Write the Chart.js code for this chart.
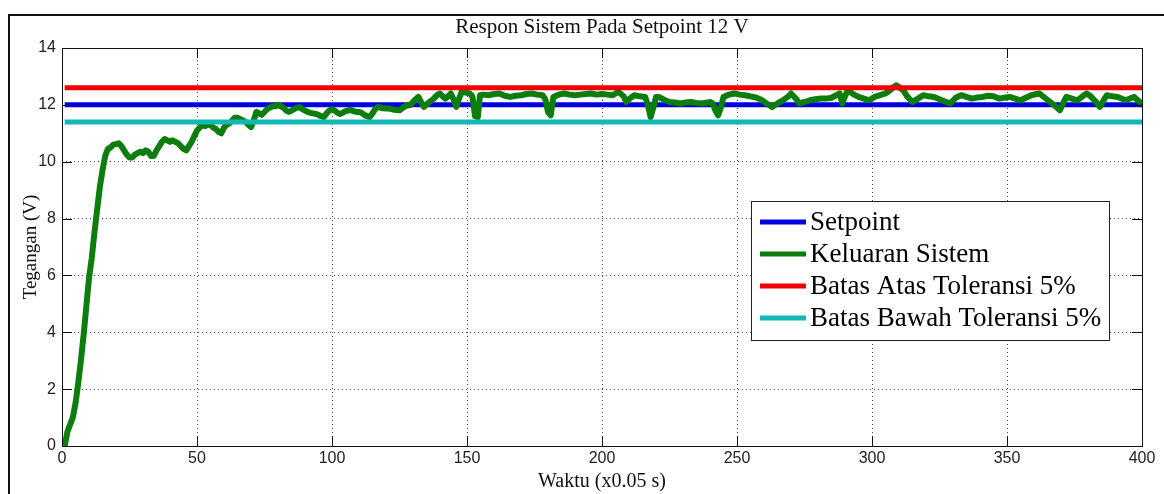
<!DOCTYPE html>
<html>
<head>
<meta charset="utf-8">
<script src="https://cdn.jsdelivr.net/npm/chart.js@4"></script>
<style>
  html, body { margin: 0; padding: 0; background: #fff; overflow: hidden; }
  #wrap { position: relative; width: 1164px; height: 494px; }
  #frame { position: absolute; left: 8px; top: 14px; width: 1170px; height: 500px;
           border-left: 2px solid #111; border-top: 2px solid #111; pointer-events: none; }
  canvas { position: absolute; left: 0; top: 0; }
</style>
</head>
<body>
<div id="wrap">
  <canvas id="chart" width="1164" height="494"></canvas>
  <div id="frame"></div>
</div>
<script>
  const chartTitle = 'Respon Sistem Pada Setpoint 12 V';
  const xLabel = 'Waktu (x0.05 s)';
  const yLabel = 'Tegangan (V)';

  const xTicks = [0, 50, 100, 150, 200, 250, 300, 350, 400];
  const yTicks = [0, 2, 4, 6, 8, 10, 12, 14];

  const lineStart = 1;
  const lineEnd = 400;
  const setpoint = 12;
  const upperLimit = 12.6;
  const lowerLimit = 11.4;

  const seriesLabels = ['Setpoint', 'Keluaran Sistem', 'Batas Atas Toleransi 5%', 'Batas Bawah Toleransi 5%'];
  const seriesColors = ['#0000e0', '#0d7d0d', '#f00000', '#12b8b8'];

  // [time, voltage]
  const outputSamples = [
    [1, 0], [2, 0.5], [3, 0.75], [4, 1.0], [5, 1.5], [6, 2.2], [7, 3.0], [8, 3.9], [9, 4.9],
    [10, 5.9], [11, 6.6], [12, 7.5], [13, 8.3], [14, 9.1], [15, 9.7], [16, 10.2], [17, 10.45],
    [18, 10.5], [19, 10.6], [20, 10.62], [21, 10.65], [22, 10.55], [23, 10.4], [24, 10.25],
    [25, 10.15], [26, 10.15], [27, 10.25], [28, 10.3], [29, 10.35], [30, 10.3], [31, 10.4],
    [32, 10.35], [33, 10.2], [34, 10.2], [35, 10.4], [36, 10.55], [37, 10.7], [38, 10.8],
    [39, 10.75], [40, 10.7], [41, 10.75], [42, 10.7], [43, 10.65], [44, 10.55], [45, 10.45],
    [46, 10.4], [47, 10.55], [48, 10.7], [49, 10.9], [50, 11.1], [51, 11.2], [52, 11.3],
    [53, 11.25], [54, 11.3], [55, 11.3], [56, 11.2], [57, 11.15], [58, 11.05], [59, 11.0],
    [60, 11.2], [61, 11.3], [62, 11.35], [63, 11.45], [64, 11.55], [65, 11.55], [66, 11.5],
    [67, 11.45], [68, 11.4], [69, 11.3], [70, 11.22], [71, 11.45], [72, 11.75], [73, 11.7],
    [74, 11.65], [75, 11.75], [76, 11.85], [77, 11.9], [78, 11.95], [79, 11.95], [80, 12.0],
    [81, 11.95], [82, 11.9], [83, 11.8], [84, 11.75], [85, 11.8], [86, 11.85], [87, 11.9],
    [88, 11.92], [89, 11.85], [90, 11.8], [91, 11.75], [92, 11.72], [93, 11.7], [94, 11.68],
    [95, 11.65], [96, 11.6], [97, 11.57], [98, 11.7], [99, 11.8], [100, 11.85], [101, 11.8],
    [102, 11.72], [103, 11.68], [104, 11.72], [105, 11.78], [106, 11.8], [107, 11.82],
    [108, 11.78], [109, 11.75], [110, 11.75], [111, 11.72], [112, 11.65], [113, 11.6],
    [114, 11.57], [115, 11.7], [116, 11.85], [117, 11.93], [118, 11.9], [119, 11.88],
    [120, 11.87], [121, 11.87], [122, 11.85], [123, 11.83], [124, 11.82], [125, 11.81],
    [126, 11.88], [127, 11.95], [128, 11.98], [129, 11.99], [130, 12.1], [131, 12.2],
    [132, 12.28], [133, 12.1], [134, 11.93], [135, 12.0], [136, 12.1], [137, 12.16],
    [138, 12.25], [139, 12.35], [140, 12.4], [141, 12.3], [142, 12.22], [143, 12.3],
    [144, 12.4], [145, 12.2], [146, 11.93], [147, 12.2], [148, 12.46], [149, 12.44],
    [150, 12.42], [151, 12.4], [152, 12.3], [153, 11.6], [154, 11.57], [154.8, 12.34],
    [156, 12.36], [158, 12.34], [160, 12.38], [162, 12.4], [164, 12.32], [166, 12.28],
    [168, 12.32], [170, 12.34], [172, 12.38], [174, 12.4], [176, 12.36], [178, 12.34],
    [179, 12.2], [180, 11.75], [181, 11.63], [182, 12.28], [184, 12.36], [186, 12.4],
    [188, 12.36], [190, 12.34], [192, 12.36], [194, 12.38], [196, 12.4], [198, 12.36],
    [200, 12.38], [202, 12.36], [204, 12.34], [206, 12.46], [208, 12.3], [209, 12.1],
    [210, 12.2], [212, 12.34], [214, 12.3], [216, 12.28], [217, 12.0], [218, 11.57],
    [219, 11.9], [220, 12.28], [221, 12.28], [223, 12.18], [225, 12.1], [227, 12.08],
    [229, 12.05], [231, 12.08], [233, 12.1], [235, 12.07], [237, 12.05], [239, 12.08],
    [240, 12.1], [241, 12.05], [242, 11.8], [243, 11.63], [244, 11.9], [245, 12.28],
    [247, 12.36], [249, 12.4], [251, 12.36], [253, 12.34], [255, 12.3], [257, 12.26],
    [259, 12.18], [261, 12.05], [263, 11.93], [265, 12.05], [267, 12.16], [269, 12.3],
    [270, 12.4], [272, 12.2], [273, 12.05], [275, 12.1], [277, 12.16], [279, 12.2],
    [281, 12.22], [283, 12.22], [285, 12.25], [287, 12.35], [288, 12.4], [289, 12.05],
    [290, 12.3], [291, 12.51], [293, 12.38], [295, 12.28], [297, 12.22], [299, 12.16],
    [301, 12.28], [303, 12.34], [305, 12.4], [306, 12.46], [308, 12.62], [309, 12.69],
    [310, 12.62], [311.6, 12.51], [313, 12.3], [315, 12.1], [317, 12.22], [319, 12.34],
    [321, 12.3], [323, 12.28], [325, 12.2], [327, 12.12], [329, 12.05], [331, 12.25],
    [333, 12.34], [335, 12.28], [337, 12.22], [339, 12.26], [341, 12.28], [343, 12.32],
    [345, 12.3], [347, 12.22], [349, 12.25], [351, 12.28], [353, 12.22], [355, 12.16],
    [357, 12.25], [359, 12.34], [361, 12.38], [362, 12.4], [364, 12.25], [366, 12.1],
    [368, 11.95], [369.6, 11.81], [371, 12.1], [372, 12.28], [374, 12.22], [376, 12.16],
    [378, 12.3], [379.5, 12.4], [381, 12.3], [383, 12.1], [384.4, 11.93], [386, 12.2],
    [387, 12.34], [389, 12.3], [391, 12.28], [393, 12.2], [394, 12.16], [396, 12.24],
    [397, 12.28], [399, 12.12], [400, 12.05]
  ];

  const flat = v => [{ x: lineStart, y: v }, { x: lineEnd, y: v }];

  const tickFont = { family: '"Liberation Sans Narrow", "Liberation Sans", Arial, sans-serif', size: 16 };
  const serif = '"Liberation Serif", "Times New Roman", serif';

  // axes box with inward ticks on all four sides, MATLAB style
  const boxTicks = {
    id: 'boxTicks',
    afterDatasetsDraw(chart) {
      const { ctx, chartArea: a, scales: { x, y } } = chart;
      const len = 10;
      ctx.save();
      ctx.strokeStyle = '#111';
      ctx.lineWidth = 1;
      ctx.strokeRect(a.left + 0.5, a.top + 0.5, a.width, a.height);
      ctx.beginPath();
      x.ticks.forEach(t => {
        const px = Math.round(x.getPixelForValue(t.value)) + 0.5;
        ctx.moveTo(px, a.bottom); ctx.lineTo(px, a.bottom - len);
        ctx.moveTo(px, a.top); ctx.lineTo(px, a.top + len);
      });
      y.ticks.forEach(t => {
        const py = Math.round(y.getPixelForValue(t.value)) + 0.5;
        ctx.moveTo(a.left, py); ctx.lineTo(a.left + len, py);
        ctx.moveTo(a.right, py); ctx.lineTo(a.right - len, py);
      });
      ctx.stroke();
      ctx.restore();
    }
  };

  const boxLegend = {
    id: 'boxLegend',
    afterDraw(chart) {
      const ctx = chart.ctx;
      const left = 751, top = 201, w = 358, h = 139;
      const rowH = 32, first = 222;
      ctx.save();
      ctx.fillStyle = '#fff';
      ctx.fillRect(left, top, w, h);
      ctx.strokeStyle = '#222';
      ctx.lineWidth = 1;
      ctx.strokeRect(left + 0.5, top + 0.5, w, h);
      ctx.font = '27px ' + serif;
      ctx.textBaseline = 'middle';
      seriesLabels.forEach((label, i) => {
        const cy = first + i * rowH;
        ctx.strokeStyle = seriesColors[i];
        ctx.lineWidth = 5;
        ctx.beginPath();
        ctx.moveTo(760, cy); ctx.lineTo(806, cy);
        ctx.stroke();
        ctx.fillStyle = '#000';
        ctx.fillText(label, 810, cy + 1);
      });
      ctx.restore();
    }
  };

  new Chart(document.getElementById('chart').getContext('2d'), {
    type: 'line',
    data: {
      datasets: [
        { label: seriesLabels[0], data: flat(setpoint), borderColor: seriesColors[0], order: 3 },
        { label: seriesLabels[1], data: outputSamples.map(([x, y]) => ({ x, y })), borderColor: seriesColors[1], borderWidth: 6, order: 2 },
        { label: seriesLabels[2], data: flat(upperLimit), borderColor: seriesColors[2], order: 1 },
        { label: seriesLabels[3], data: flat(lowerLimit), borderColor: seriesColors[3], order: 0 },
      ],
    },
    options: {
      responsive: false,
      animation: false,
      devicePixelRatio: 1,
      layout: { padding: { left: 0, right: 22, top: 0, bottom: 0 } },
      elements: {
        line: { borderWidth: 5, tension: 0, fill: false, borderJoinStyle: 'round', borderCapStyle: 'butt' },
        point: { radius: 0, hoverRadius: 0 },
      },
      plugins: {
        legend: { display: false },
        tooltip: { enabled: false },
        title: {
          display: true,
          text: chartTitle,
          fullSize: false,
          color: '#111',
          font: { family: serif, size: 21, weight: 'normal', lineHeight: 1 },
          padding: { top: 17, bottom: 10 },
        },
      },
      scales: {
        x: {
          type: 'linear',
          min: 0,
          max: 400,
          afterFit: s => { s.height = 48; },
          afterBuildTicks: s => { s.ticks = xTicks.map(v => ({ value: v })); },
          ticks: { font: tickFont, color: '#222', padding: 3, maxRotation: 0 },
          grid: { color: 'rgba(0,0,0,0.7)', lineWidth: 1, drawTicks: false },
          border: { display: false, dash: [1, 3] },
          title: { display: true, text: xLabel, color: '#111', font: { family: serif, size: 20 }, padding: { top: 0, bottom: 0 } },
        },
        y: {
          type: 'linear',
          min: 0,
          max: 14,
          afterFit: s => { s.width = 62; },
          afterBuildTicks: s => { s.ticks = yTicks.map(v => ({ value: v })); },
          ticks: { font: tickFont, color: '#222', padding: 6 },
          grid: { color: 'rgba(0,0,0,0.7)', lineWidth: 1, drawTicks: false },
          border: { display: false, dash: [1, 3] },
          title: { display: true, text: yLabel, color: '#111', font: { family: serif, size: 19 }, padding: { top: 20, bottom: 0 } },
        },
      },
    },
    plugins: [boxTicks, boxLegend],
  });
</script>
</body>
</html>
